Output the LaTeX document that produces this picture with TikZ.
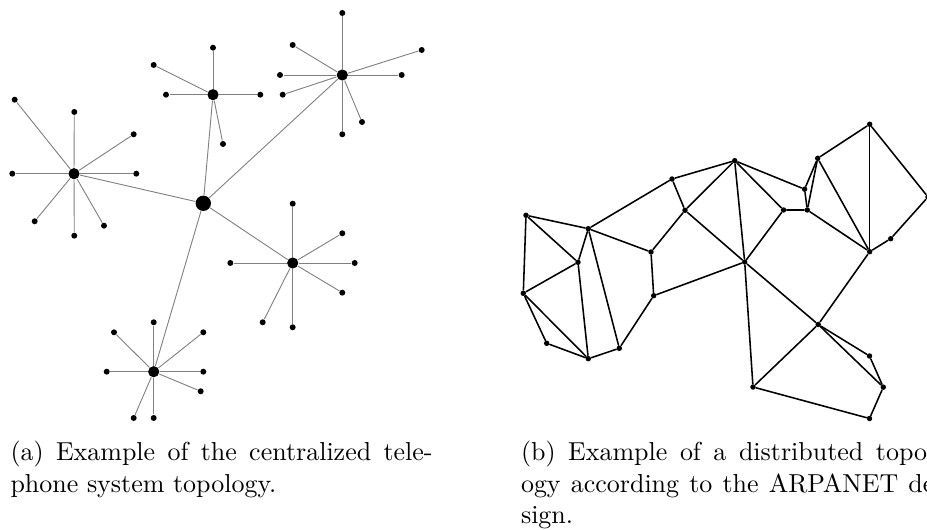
\documentclass[tikz,border=0pt]{standalone}
\begin{document}
\begin{tikzpicture}[x=0.385pt,y=-0.385pt,
  centre/.style={circle,fill=black,inner sep=0pt,minimum size=5.9pt},
  hub/.style={circle,fill=black,inner sep=0pt,minimum size=4.3pt},
  leaf/.style={circle,fill=black,inner sep=0pt,minimum size=2.3pt},
  spoke/.style={draw=black!50,line width=0.35pt},
  vertex/.style={circle,fill=black,inner sep=0pt,minimum size=2.1pt},
  link/.style={draw=black,line width=0.6pt,line cap=round},
  capt/.style={anchor=north west,inner sep=0pt,text width=162.5pt,align=justify}]
\useasboundingbox (0,0) rectangle (927,530);

% ---------- (a) centralized star-of-stars ----------
\node[centre] (c) at (203.3,203.3) {};
\node[hub] (ha) at (74,173.7) {};
\node[hub] (hb) at (213,94.7) {};
\node[hub] (hc) at (342.3,75) {};
\node[hub] (hd) at (292.7,263) {};
\node[hub] (he) at (153.7,371.7) {};
\foreach \h in {ha,hb,hc,hd,he} \draw[spoke] (c) -- (\h);

\foreach \p [count=\i] in {(14.7,99.7),(74.3,112),(133.7,134.3),(12.3,173.7),
    (136.3,173.7),(34.7,221.3),(74.3,235.7),(104,225.7)}
  {\node[leaf] (a\i) at \p {}; \draw[spoke] (ha) -- (a\i);}
\foreach \p [count=\i] in {(213,47.7),(153.7,65),(166,94.7),(260.3,94.7),(223,144)}
  {\node[leaf] (b\i) at \p {}; \draw[spoke] (hb) -- (b\i);}
\foreach \p [count=\i] in {(342.3,13),(292.7,45),(421.7,50),(280,75),
    (401.7,75),(282.7,94.7),(362,122),(342.3,134.3)}
  {\node[leaf] (c\i) at \p {}; \draw[spoke] (hc) -- (c\i);}
\foreach \p [count=\i] in {(292.7,203.7),(342.3,233.3),(230.3,263),(354.7,263),
    (342.3,292.7),(262.7,322.3),(292.7,327.3)}
  {\node[leaf] (d\i) at \p {}; \draw[spoke] (hd) -- (d\i);}
\foreach \p [count=\i] in {(153.7,322.3),(114,332.3),(203.3,332.3),(106.7,371.7),
    (203.3,371.7),(200.7,391.3),(133.7,418),(153.7,418)}
  {\node[leaf] (e\i) at \p {}; \draw[spoke] (he) -- (e\i);}

% ---------- (b) distributed mesh ----------
\foreach \p [count=\i] in {(526,215.3),(588.3,228.7),(578,262.3),(523.3,293.3),
    (546.7,343.3),(588.3,358.7),(619.3,348.3),(651,252),(653.7,295.7),
    (672,179),(685,210.3),(734.7,160.7),(744.7,262),(804.6,189.2),
    (783.5,210),(807.3,210),(817.7,158.3),(869.7,124.3),(928,197),
    (890.7,238.7),(869.7,251.7),(818.2,324.5),(869.5,356),(883.3,387.2),
    (869.5,418.5),(753,387)}
  \node[vertex] (v\i) at \p {};
\foreach \a/\b in {1/2,1/3,1/4,3/4,2/3,4/5,4/6,5/6,3/6,2/7,6/7,2/8,8/9,7/9,
    8/11,2/10,10/11,10/12,11/12,11/13,12/13,12/15,12/14,14/16,14/17,16/17,
    15/16,13/15,9/13,16/21,17/21,17/18,18/21,18/19,19/20,20/21,21/22,13/22,
    13/26,22/26,22/23,22/24,23/24,24/25,25/26}
  \draw[link] (v\a) -- (v\b);

% ---------- captions ----------
\node[capt] (capa) at (10,441)
  {(a) Example of the centralized tele-\linebreak phone system topology.};
\node[capt] (capb) at (520.5,441)
  {(b) Example of a distributed topol-\linebreak ogy according to the ARPANET de-\linebreak sign.};
\end{tikzpicture}
\end{document}
